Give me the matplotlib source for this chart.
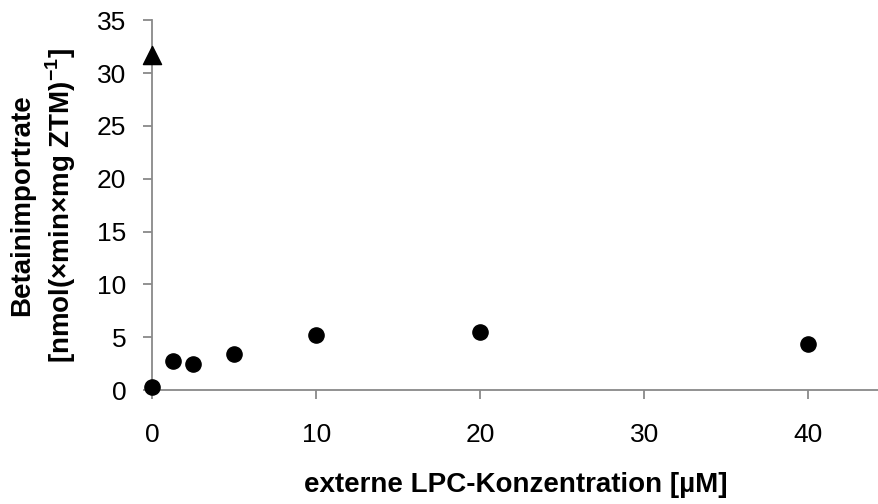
import matplotlib.pyplot as plt

plt.rcParams['font.family'] = ['Liberation Sans', 'DejaVu Sans']
plt.rcParams['mathtext.fontset'] = 'custom'
plt.rcParams['mathtext.rm'] = 'Liberation Sans'
plt.rcParams['mathtext.bf'] = 'Liberation Sans:bold'

# LPC concentration (uM) and betaine import rate
lpc_conc = [0, 1.25, 2.5, 5, 10, 20, 40]
import_rate = [0.3, 2.8, 2.5, 3.4, 5.2, 5.5, 4.4]

# reference value (triangle)
ref_conc = [0]
ref_rate = [31.7]

fig = plt.figure(figsize=(8.79, 5.04), dpi=100)
ax = fig.add_axes([0.173, 0.226, 0.827, 0.734])

ax.scatter(lpc_conc, import_rate, s=120, color='black', marker='o', zorder=3, clip_on=False)
ax.scatter(ref_conc, ref_rate, s=170, color='black', marker='^', zorder=3, clip_on=False)

ax.set_xlim(0, 44.3)
ax.set_ylim(0, 35)
ax.set_xticks([0, 10, 20, 30, 40])
ax.set_yticks(range(0, 36, 5))

for side in ['top', 'right']:
    ax.spines[side].set_visible(False)
for side in ['left', 'bottom']:
    ax.spines[side].set_color('#898989')
    ax.spines[side].set_linewidth(1.3)

ax.tick_params(direction='out', length=6.5, width=1.3, color='#898989', labelsize=19)
ax.tick_params(axis='y', pad=12)
ax.tick_params(axis='x', pad=17)

ax.set_xlabel('externe LPC-Konzentration [µM]', fontsize=20, fontweight='bold', labelpad=18)
ax.set_ylabel('Betainimportrate\n[nmol(×min×mg ZTM)$^{\\mathbf{-1}}$]', fontsize=20,
              fontweight='bold', labelpad=14, linespacing=1.3)

fig.savefig('out.png', dpi=100)
